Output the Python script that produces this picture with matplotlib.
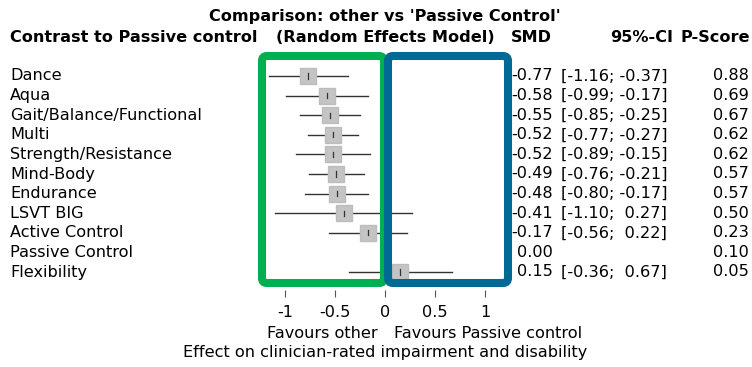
import matplotlib
matplotlib.use("Agg")
import matplotlib.pyplot as plt
from matplotlib import transforms
from matplotlib.patches import FancyBboxPatch

# data
treatments = ["Dance", "Aqua", "Gait/Balance/Functional", "Multi", "Strength/Resistance",
              "Mind-Body", "Endurance", "LSVT BIG", "Active Control", "Passive Control",
              "Flexibility"]
smd = [-0.77, -0.58, -0.55, -0.52, -0.52, -0.49, -0.48, -0.41, -0.17, 0.00, 0.15]
ci_low = [-1.16, -0.99, -0.85, -0.77, -0.89, -0.76, -0.80, -1.10, -0.56, None, -0.36]
ci_high = [-0.37, -0.17, -0.25, -0.27, -0.15, -0.21, -0.17, 0.27, 0.22, None, 0.67]
pscore = [0.88, 0.69, 0.67, 0.62, 0.62, 0.57, 0.57, 0.50, 0.23, 0.10, 0.05]
xticks = [-1, -0.5, 0, 0.5, 1]
xticklabels = ["-1", "-0.5", "0", "0.5", "1"]

W, H = 752, 367
fig = plt.figure(figsize=(W / 100, H / 100), dpi=100)
plt.rcParams['font.family'] = 'DejaVu Sans'
fs = 11.6

# axes in pixel positions
ax_l, ax_r, ax_t, ax_b = 260, 510, 55, 290
ax = fig.add_axes([ax_l / W, 1 - ax_b / H, (ax_r - ax_l) / W, (ax_b - ax_t) / H])
ax.set_xlim(-1.25, 1.25)
ax.set_ylim(10 + (ax_b - 272) / 19.6, -(76 - ax_t) / 19.6)
for s in ax.spines.values():
    s.set_visible(False)
ax.set_yticks([])
ax.set_xticks(xticks)
ax.set_xticklabels(xticklabels, fontsize=fs)
ax.tick_params(axis='x', length=5, color='#555555', pad=6, direction='out')

for i in range(len(treatments)):
    if ci_low[i] is None:
        continue
    ax.plot([ci_low[i], ci_high[i]], [i, i], color='#333333', lw=1.0, zorder=2)
    ax.plot(smd[i], i, marker='s', ms=11, color='#c4c4c4', mec='#bdbdbd', zorder=3)
    ax.plot([smd[i], smd[i]], [i - 0.13, i + 0.13], color='#333333', lw=0.9, zorder=4)

# highlight boxes
box_kw = dict(boxstyle="round,pad=0,rounding_size=5", fill=False, lw=5.8,
              transform=None, clip_on=False)
def px_box(x0, y0, x1, y1, color, z):
    p = FancyBboxPatch((x0, H - y1), x1 - x0, y1 - y0, edgecolor=color, zorder=z, **box_kw)
    fig.patches.append(p)

px_box(262, 56, 384, 283, '#00b050', 5)
px_box(388, 56, 508, 283, '#006a94', 6)

# text columns
tr = transforms.blended_transform_factory(fig.transFigure, ax.transData)
for i, name in enumerate(treatments):
    fig.text(10 / W, i, name, transform=tr, fontsize=fs, va='center', ha='left')
    fig.text(553 / W, i, "%.2f" % smd[i], transform=tr, fontsize=fs, va='center', ha='right',
             zorder=1)
    if ci_low[i] is not None:
        ci = "[%.2f; %5.2f]" % (ci_low[i], ci_high[i])
        fig.text(561 / W, i, ci, transform=tr, fontsize=fs, va='center', ha='left')
    fig.text(749 / W, i, "%.2f" % pscore[i], transform=tr, fontsize=fs, va='center', ha='right')

# headers
fig.text(385 / W, 1 - 17 / H, "Comparison: other vs 'Passive Control'", fontsize=fs,
         fontweight='bold', ha='center', va='center')
fig.text(10 / W, 1 - 37 / H, "Contrast to Passive control", fontsize=fs, fontweight='bold',
         ha='left', va='center')
fig.text(385 / W, 1 - 37 / H, "(Random Effects Model)", fontsize=fs, fontweight='bold',
         ha='center', va='center')
fig.text(531 / W, 1 - 37 / H, "SMD", fontsize=fs, fontweight='bold', ha='center', va='center')
fig.text(673 / W, 1 - 37 / H, "95%-CI", fontsize=fs, fontweight='bold', ha='right', va='center')
fig.text(750 / W, 1 - 37 / H, "P-Score", fontsize=fs, fontweight='bold', ha='right', va='center')

# x axis labels
fig.text(378 / W, 1 - 333 / H, "Favours other", fontsize=fs, ha='right', va='center')
fig.text(394 / W, 1 - 333 / H, "Favours Passive control", fontsize=fs, ha='left', va='center')
fig.text(385 / W, 1 - 353 / H, "Effect on clinician-rated impairment and disability",
         fontsize=fs, ha='center', va='center')

fig.savefig("out.png", dpi=100)
